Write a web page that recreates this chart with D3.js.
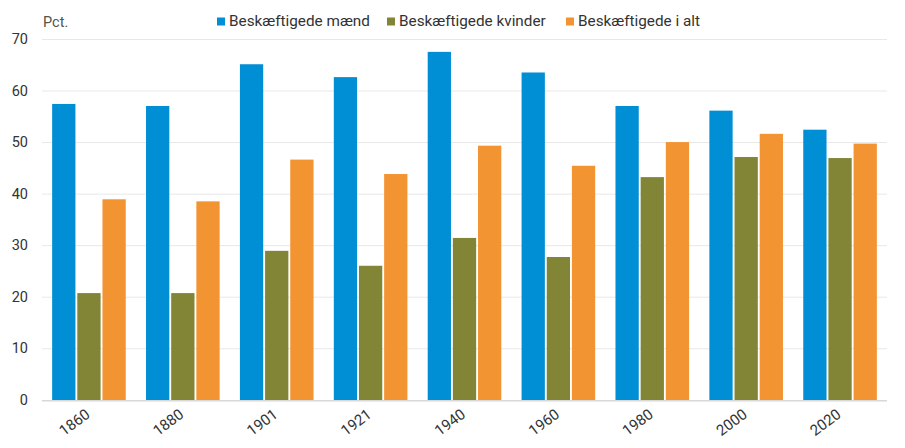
<!DOCTYPE html>
<html><head><meta charset="utf-8">
<script src="https://cdn.jsdelivr.net/npm/d3@7"></script>
<style>body{margin:0;background:#fff;} text{font-family:Roboto, "Noto Sans", sans-serif;}</style>
</head><body><svg id="c" width="905" height="448"></svg>
<script>
const categories = ["1860","1880","1901","1921","1940","1960","1980","2000","2020"];
const seriesNames = ["Beskæftigede mænd","Beskæftigede kvinder","Beskæftigede i alt"];
const maend  = [57.5, 57.1, 65.2, 62.7, 67.6, 63.6, 57.1, 56.2, 52.5];
const kvinder= [20.8, 20.8, 29.0, 26.1, 31.5, 27.8, 43.3, 47.2, 47.0];
const ialt   = [39.0, 38.6, 46.7, 43.9, 49.4, 45.5, 50.1, 51.7, 49.8];
const yTicks = [0,10,20,30,40,50,60,70];
const colors = ["#008fd5","#828536","#f39433"];
const series = [maend, kvinder, ialt];

const svg = d3.select("#c");
const L=42, R=887, T=39.5, B=400.3;
const x = d3.scaleBand().domain(categories).range([L,R]).paddingInner(0.216).paddingOuter(0.108);
const xs = d3.scaleBand().domain([0,1,2]).range([0,x.bandwidth()]).paddingInner(0.075);
const y = d3.scaleLinear().domain([0,70]).range([B,T]);

// gridlines
svg.append("g").selectAll("line").data(yTicks.filter(d=>d>0)).join("line")
  .attr("x1",L).attr("x2",R).attr("y1",d=>y(d)).attr("y2",d=>y(d))
  .attr("stroke","#e8e8e8").attr("stroke-width",1);
// y labels
svg.append("g").selectAll("text").data(yTicks).join("text")
  .attr("x",28).attr("y",d=>y(d)+4.5).attr("text-anchor","end")
  .attr("font-size",14.5).attr("fill","#333").text(d=>d);
svg.append("text").attr("x",43).attr("y",26.5).attr("font-size",14.5).attr("fill","#555548").text("Pct.");

// bars
series.forEach((s,si)=>{
  svg.append("g").selectAll("rect").data(s).join("rect")
    .attr("x",(d,i)=>x(categories[i])+xs(si))
    .attr("width",xs.bandwidth())
    .attr("y",d=>y(d)).attr("height",d=>B-y(d))
    .attr("fill",colors[si]);
});
// baseline
svg.append("line").attr("x1",L).attr("x2",R).attr("y1",B+0.5).attr("y2",B+0.5).attr("stroke","#d8d8d8").attr("stroke-width",1.5);

// x labels
svg.append("g").selectAll("text").data(categories).join("text")
  .attr("transform",d=>`translate(${x(d)+x.bandwidth()/2+2},${B+16}) rotate(-37)`)
  .attr("text-anchor","end").attr("font-size",15).attr("fill","#333").text(d=>d);

// legend
const legX=[217,387,566];
seriesNames.forEach((n,i)=>{
  svg.append("rect").attr("x",legX[i]).attr("y",17.5).attr("width",8).attr("height",8).attr("fill",colors[i]);
  svg.append("text").attr("x",legX[i]+12).attr("y",25.5).attr("font-size",15.3).attr("fill","#333").text(n);
});
</script></body></html>
